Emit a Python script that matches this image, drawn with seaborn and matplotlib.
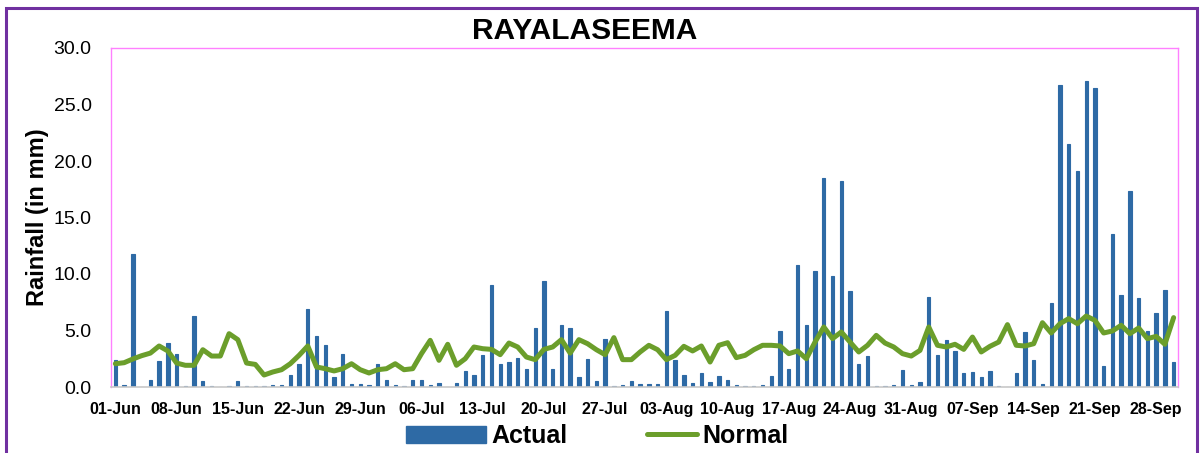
import numpy as np
import pandas as pd
import matplotlib
matplotlib.use('Agg')
import matplotlib.pyplot as plt
from matplotlib.patches import Rectangle, Patch
from matplotlib.lines import Line2D
from matplotlib.legend_handler import HandlerLine2D
import seaborn as sns

# ==================== DONNEES ====================

dates = pd.date_range('2013-06-01', '2013-09-30', freq='D')
day_labels = [d.strftime('%d-%b') for d in dates]

actual = [
    2.4, 0.15, 11.8, 0.0, 0.6, 2.3, 3.9, 2.95, 0.1, 6.3,          # 01-10 Jun
    0.57, 0.1, 0.0, 0.1, 0.5, 0.1, 0.1, 0.1, 0.2, 0.2,            # 11-20 Jun
    1.1, 2.0, 6.9, 4.5, 3.7, 0.9, 2.95, 0.24, 0.24, 0.15,         # 21-30 Jun
    2.05, 0.65, 0.15, 0.12, 0.65, 0.65, 0.15, 0.32, 0.0, 0.32,    # 01-10 Jul
    1.4, 1.1, 2.85, 9.05, 2.0, 2.2, 2.6, 1.55, 5.25, 9.4,         # 11-20 Jul
    1.6, 5.45, 5.25, 0.86, 2.5, 0.53, 4.25, 0.12, 0.2, 0.53,      # 21-31 Jul
    0.3, 0.3, 0.3, 6.7, 2.4, 1.1, 0.32, 1.2, 0.44, 0.97,          # 01-10 Aug
    0.65, 0.2, 0.1, 0.1, 0.2, 0.97, 5.0, 1.62, 10.8, 5.45,        # 11-20 Aug
    10.3, 18.5, 9.8, 18.2, 8.5, 2.0, 2.7, 0.1, 0.1, 0.2,          # 21-30 Aug
    1.53, 0.2, 0.41, 7.95, 2.85, 4.2, 3.15, 1.2, 1.33, 0.88,      # 31 Aug-09 Sep
    1.42, 0.1, 0.0, 1.2, 4.9, 2.4, 0.24, 7.45, 26.75, 21.5,       # 10-19 Sep
    19.1, 27.05, 26.5, 1.86, 13.5, 8.1, 17.35, 7.85, 5.0, 6.55,   # 20-29 Sep
    8.6, 2.2, 0.12,
]
actual = actual[:len(dates)]

normal = [
    2.06, 2.15, 2.48, 2.77, 3.0, 3.63, 3.19, 2.12, 1.92, 1.92,
    3.3, 2.74, 2.74, 4.72, 4.19, 2.12, 2.0, 1.06, 1.33, 1.53,
    2.06, 2.8, 3.63, 1.77, 1.62, 1.42, 1.62, 2.06, 1.53, 1.24,
    1.53, 1.62, 2.06, 1.53, 1.62, 2.95, 4.13, 2.36, 3.78, 1.92,
    2.5, 3.54, 3.39, 3.33, 2.86, 3.89, 3.54, 2.65, 2.42, 3.33,
    3.54, 4.19, 3.0, 4.19, 3.83, 3.3, 2.86, 4.37, 2.42, 2.42,
    3.1, 3.69, 3.3, 2.42, 2.8, 3.6, 3.19, 3.63, 2.21, 3.69,
    3.92, 2.6, 2.8, 3.3, 3.69, 3.69, 3.63, 2.95, 3.19, 2.5,
    3.98, 5.31, 4.28, 4.87, 3.98, 3.1, 3.69, 4.57, 3.89, 3.54,
    2.95, 2.74, 3.24, 5.31, 3.69, 3.54, 3.78, 3.33, 4.42, 3.1,
    3.6, 3.98, 5.52, 3.69, 3.63, 3.83, 5.69, 4.78, 5.6, 6.05,
    5.6, 6.28, 5.9, 4.78, 4.96, 5.46, 4.72, 5.22, 4.28, 4.48,
    3.78, 6.14,
]

y_ticks = [0, 5, 10, 15, 20, 25, 30]

bar_color = '#2E6AA5'
line_color = '#6B9E2B'


class ShortLineHandler(HandlerLine2D):
    """Trait de legende plus court, colle au texte"""
    def get_xdata(self, legend, xdescent, ydescent, width, height, fontsize):
        return [0.38 * width - xdescent, width - xdescent], [0.5 * width - xdescent]


# ==================== GRAPHIQUE ====================

df = pd.DataFrame({'pos': np.arange(len(dates)), 'Actual': actual, 'Normal': normal})

sns.set_style('white')
plt.rcParams['font.family'] = ['Liberation Sans', 'DejaVu Sans']
plt.rcParams['text.color'] = 'black'
plt.rcParams['xtick.color'] = 'black'
plt.rcParams['ytick.color'] = 'black'
plt.rcParams['axes.labelcolor'] = 'black'

fig = plt.figure(figsize=(12.04, 4.53), dpi=100)
ax = fig.add_axes([111 / 1204, 1 - 387 / 453, (1178 - 111) / 1204, (387 - 48) / 453])

sns.barplot(data=df, x='pos', y='Actual', color=bar_color, width=0.38,
            saturation=1, ax=ax, native_scale=True,
            edgecolor=bar_color, linewidth=0.8)
sns.lineplot(data=df, x='pos', y='Normal', color=line_color, linewidth=3.6, ax=ax)

ax.set_xlim(-0.5, len(dates) - 0.5)
ax.set_ylim(0, 30)
ax.set_yticks(y_ticks)
ax.set_yticklabels([f'{v:.1f}' for v in y_ticks], fontsize=14)

tick_pos = list(range(0, len(dates), 7))
ax.set_xticks(tick_pos)
ax.set_xticklabels([day_labels[i] for i in tick_pos], fontsize=11.5, fontweight='bold',
                   family=['Liberation Sans Narrow', 'Liberation Sans'])
ax.tick_params(axis='y', length=0, pad=14)
ax.tick_params(axis='x', length=0, pad=11)

ax.set_xlabel('')
ax.set_ylabel('Rainfall (in mm)', fontsize=17, fontweight='bold', labelpad=3)

for side in ['top', 'left', 'right']:
    ax.spines[side].set_color('#FF80FF')
    ax.spines[side].set_linewidth(1)
ax.spines['bottom'].set_color('#C8C8C8')
ax.spines['bottom'].set_linewidth(1.2)

fig.text(585 / 1204, 1 - 31 / 453, 'RAYALASEEMA', ha='center', va='center',
         fontsize=21.5, fontweight='bold')

normal_handle = Line2D([0], [0], color=line_color, lw=3.6)
handles = [Patch(facecolor=bar_color, edgecolor=bar_color), normal_handle]
fig.legend(handles, ['Actual', 'Normal'], loc='center', bbox_to_anchor=(597 / 1204, 1 - 436 / 453),
           ncol=2, frameon=False, prop={'size': 18, 'weight': 'bold'},
           handlelength=3.2, handleheight=0.7, handletextpad=0.2, columnspacing=2.0,
           handler_map={normal_handle: ShortLineHandler()})

fig.patches.append(Rectangle((6 / 1204, -0.02), (1197 - 6) / 1204, 1 - 8 / 453 + 0.02,
                             transform=fig.transFigure, fill=False,
                             edgecolor='#7030A0', linewidth=2.2))

fig.savefig('out.png', dpi=100)
plt.close(fig)
